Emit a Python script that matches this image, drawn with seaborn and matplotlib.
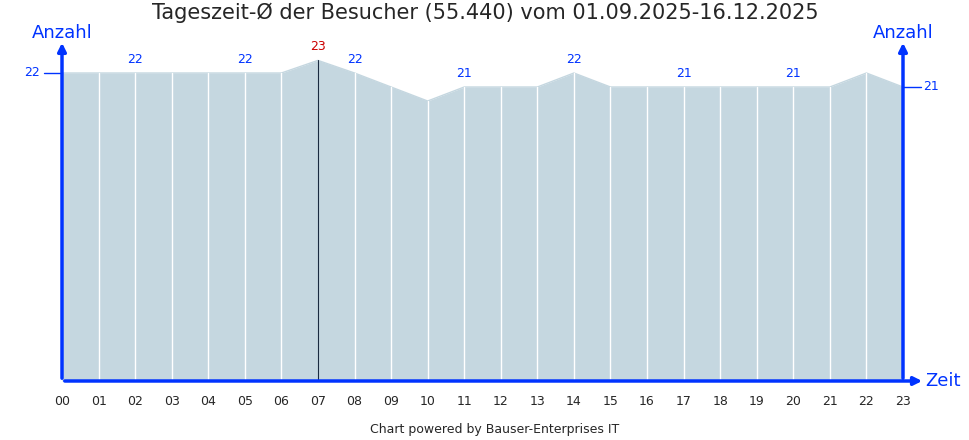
import matplotlib
matplotlib.use("Agg")
import matplotlib.pyplot as plt
import seaborn as sns
import numpy as np

hours = ["00","01","02","03","04","05","06","07","08","09","10","11","12","13","14","15","16","17","18","19","20","21","22","23"]
values = [22,22,22,22,22,22,22,22.9,22,21,20,21,21,21,22,21,21,21,21,21,21,21,22,21]
labels_shown = {2:"22",5:"22",7:"23",8:"22",11:"21",14:"22",17:"21",20:"21"}

sns.set_style("white")
plt.rcParams['font.family'] = ['DejaVu Sans']
fig = plt.figure(figsize=(9.7,4.4), dpi=100)
ax = fig.add_axes([62/970, 1-381/440, (903-62)/970, 331/440])
x = np.arange(len(hours))
ax.fill_between(x, values, 0, color="#c5d7e0", lw=0)
sns.lineplot(x=x, y=values, ax=ax, color="#c5d7e0", lw=1)
for i in x:
    if i == 7:
        ax.plot([i,i],[0,values[i]], color="#1a2a40", lw=0.8)
    elif 0 < i < 23:
        ax.plot([i,i],[0,values[i]], color="white", lw=1)
for i,t in labels_shown.items():
    ax.text(i, values[i]+0.5, t, ha="center", va="bottom", fontsize=9,
            color="#cc0000" if i==7 else "#0033ff")
ax.set_xlim(0,23)
ax.set_ylim(0,(381-50)/14)
for s in ax.spines.values(): s.set_visible(False)
ax.set_xticks(x); ax.set_xticklabels(hours, fontsize=9)
ax.tick_params(axis="x", length=4, color="#0033ff", pad=6)
ax.set_yticks([])
blue = "#0033ff"
ax.annotate("", xy=(0,(381-40)/14), xytext=(0,0), xycoords="data",
            arrowprops=dict(arrowstyle="-|>", color=blue, lw=2.5, mutation_scale=12), annotation_clip=False)
ax.annotate("", xy=(23,(381-40)/14), xytext=(23,0),
            arrowprops=dict(arrowstyle="-|>", color=blue, lw=2.5, mutation_scale=12), annotation_clip=False)
ax.annotate("", xy=(23.6,0), xytext=(0,0),
            arrowprops=dict(arrowstyle="-|>", color=blue, lw=2.5, mutation_scale=12), annotation_clip=False)
ax.plot([-0.5,0],[22,22], color=blue, lw=1, clip_on=False)
ax.text(-0.6,22,"22",ha="right",va="center",fontsize=9,color=blue)
ax.plot([23,23.5],[21,21], color=blue, lw=1, clip_on=False)
ax.text(23.55,21,"21",ha="left",va="center",fontsize=9,color=blue)
fig.text(62/970, 1-33/440, "Anzahl", ha="center", va="center", fontsize=13, color=blue)
fig.text(903/970, 1-33/440, "Anzahl", ha="center", va="center", fontsize=13, color=blue)
fig.text(943/970, 1-381/440, "Zeit", ha="center", va="center", fontsize=13, color=blue)
fig.text(0.5, 1-13/440, "Tageszeit-Ø der Besucher (55.440) vom 01.09.2025-16.12.2025", ha="center", va="center", fontsize=15)
fig.text(495/970, 1-429/440, "Chart powered by Bauser-Enterprises IT", ha="center", va="center", fontsize=9)
fig.savefig("out.png", dpi=100)
